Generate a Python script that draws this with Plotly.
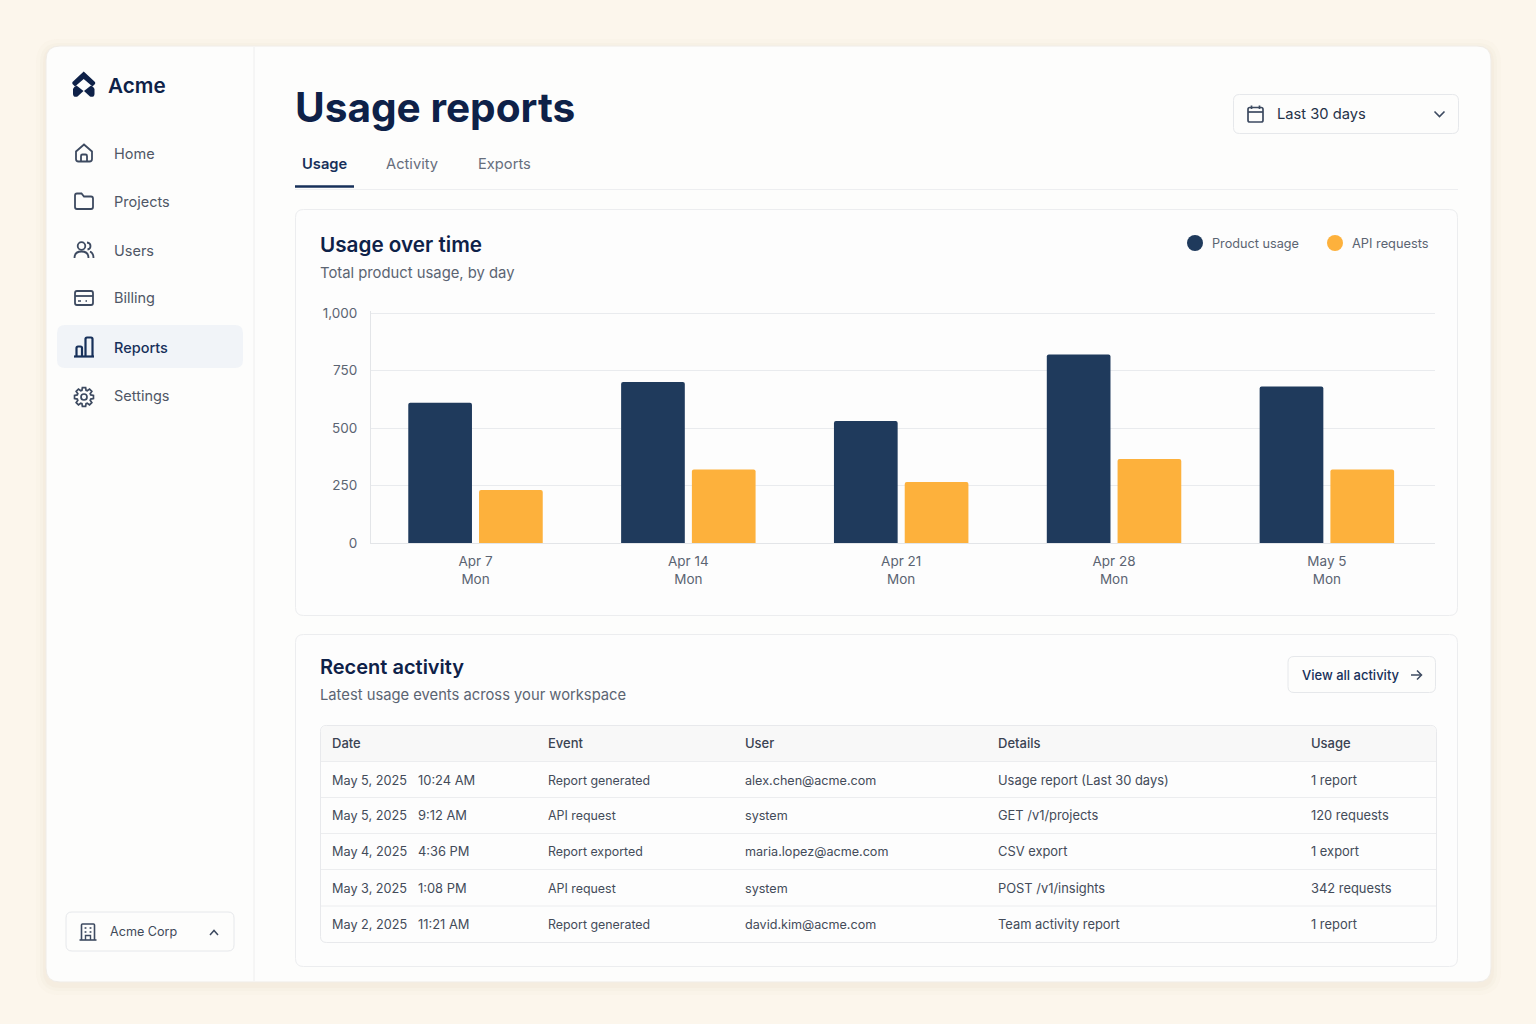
import math
import re
import plotly.graph_objects as go

W, H = 1536, 1024

# chart data
weeks = ['Apr 7<br>Mon', 'Apr 14<br>Mon', 'Apr 21<br>Mon', 'Apr 28<br>Mon', 'May 5<br>Mon']
product_usage = [610, 700, 530, 820, 680]
api_requests = [230, 320, 265, 365, 320]
y_ticks = [0, 250, 500, 750, 1000]
y_tick_labels = ['0', '250', '500', '750', '1,000']

# sidebar / tabs
nav_items = ['Home', 'Projects', 'Users', 'Billing', 'Reports', 'Settings']
tabs = ['Usage', 'Activity', 'Exports']

# table
columns = ['Date', 'Event', 'User', 'Details', 'Usage']
dates = ['May 5, 2025', 'May 5, 2025', 'May 4, 2025', 'May 3, 2025', 'May 2, 2025']
times = ['10:24 AM', '9:12 AM', '4:36 PM', '1:08 PM', '11:21 AM']
events = ['Report generated', 'API request', 'Report exported', 'API request', 'Report generated']
users = ['alex.chen@acme.com', 'system', 'maria.lopez@acme.com', 'system', 'david.kim@acme.com']
details = ['Usage report (Last 30 days)', 'GET /v1/projects', 'CSV export', 'POST /v1/insights', 'Team activity report']
usage = ['1 report', '120 requests', '1 export', '342 requests', '1 report']

NAVY = '#1F3A5C'
ORANGE = '#FDB13C'
INK = '#0E2148'
GRAY = '#5B6472'
BODY = '#434B59'
ICON = '#3D4A60'
LINE = '#E9EBEE'
FONT = 'Inter'

shapes = []
annotations = []


def conv(path):
    # path written in screen pixels -> paper coordinates
    out = []
    is_x = True
    for tok in re.findall(r'[A-Za-z]|-?\d+\.?\d*', path):
        if tok.isalpha():
            out.append(tok)
            is_x = True
        else:
            v = float(tok)
            out.append(f'{v / W:.6f}' if is_x else f'{1 - v / H:.6f}')
            is_x = not is_x
    return ' '.join(out)


def draw(path, color=None, width=1.0, fill=None):
    shapes.append(dict(type='path', xref='paper', yref='paper', layer='below', path=conv(path),
                       line=dict(color=color or 'rgba(0,0,0,0)', width=width if color else 0),
                       fillcolor=fill or 'rgba(0,0,0,0)'))


def rr_path(x0, y0, x1, y1, r):
    return (f'M {x0 + r} {y0} L {x1 - r} {y0} Q {x1} {y0} {x1} {y0 + r} L {x1} {y1 - r} Q {x1} {y1} {x1 - r} {y1} '
            f'L {x0 + r} {y1} Q {x0} {y1} {x0} {y1 - r} L {x0} {y0 + r} Q {x0} {y0} {x0 + r} {y0} Z')


def rrect(x0, y0, x1, y1, r, fill=None, color=None, width=1.0):
    draw(rr_path(x0, y0, x1, y1, r), color, width, fill)


def circle(cx, cy, r, fill=None, color=None, width=1.0):
    shapes.append(dict(type='circle', xref='paper', yref='paper', layer='below',
                       x0=(cx - r) / W, x1=(cx + r) / W, y0=1 - (cy + r) / H, y1=1 - (cy - r) / H,
                       line=dict(color=color or 'rgba(0,0,0,0)', width=width if color else 0),
                       fillcolor=fill or 'rgba(0,0,0,0)'))


def text(x, y, s, size=14, color=BODY, weight=400, anchor='left'):
    annotations.append(dict(xref='paper', yref='paper', x=(x - 1) / W, y=1 - y / H, text=s, showarrow=False,
                            xanchor=anchor, yanchor='middle', borderpad=0,
                            font=dict(family=FONT, size=size, color=color, weight=weight)))


# --- frame ---
for grow, alpha in [(10, 0.10), (6, 0.14), (3, 0.18)]:
    rrect(46 - grow, 46 - grow + 3, 1491 + grow, 982 + grow + 3, 14 + grow, fill=f'rgba(236,224,204,{alpha})')
rrect(46, 46, 1491, 982, 14, fill='#FDFDFC', color='#F0ECE6', width=1)
draw('M 254 47 L 254 981', '#EEEEEE', 1)

# --- logo ---
draw('M 83.7 71.5 L 95 82 Q 95.5 83 95 84 L 92.5 86.5 L 83.7 79 L 75 86.5 L 72.5 84 Q 72 83 72.5 82 Z', fill=INK)
draw('M 76.5 85.5 L 83.5 91 L 77.5 96.5 Q 76 97.2 74 96.5 Q 73 95.5 73 94 L 73 89 Q 73.5 87 76.5 85.5 Z', fill=INK)
draw('M 91 85.5 L 84 91 L 90 96.5 Q 91.5 97.2 93.5 96.5 Q 94.5 95.5 94.5 94 L 94.5 89 Q 94 87 91 85.5 Z', fill=INK)
text(108, 85, 'Acme', 20.7, INK, 600)

# --- nav ---
rrect(57, 325, 243, 368, 8, fill='#F1F4F8')
nav_y = [153, 201, 250, 298, 347, 396]
for name, y in zip(nav_items, nav_y):
    active = name == 'Reports'
    text(114, y, name, 14.5, '#17305A' if active else '#4F5766', 500 if active else 400)

draw('M 76 151.5 L 84 144.5 L 92 151.5 L 92 159 Q 92 161.5 89.5 161.5 L 78.5 161.5 Q 76 161.5 76 159 Z', ICON, 1.8)
draw('M 81 161.5 L 81 156 Q 81 154.5 82.5 154.5 L 85.5 154.5 Q 87 154.5 87 156 L 87 161.5', ICON, 1.8)
draw('M 75 195.5 Q 75 193.5 77 193.5 L 81.5 193.5 L 84 196.5 L 91 196.5 Q 93 196.5 93 198.5 L 93 207 '
     'Q 93 209 91 209 L 77 209 Q 75 209 75 207 Z', ICON, 1.8)
circle(81.5, 246, 3.8, color=ICON, width=1.8)
draw('M 74.5 258 Q 74.5 251.5 81.5 251.5 Q 88.5 251.5 88.5 258', ICON, 1.8)
draw('M 87 242.5 Q 90.5 243 90.5 246 Q 90.5 249 87.5 249.5', ICON, 1.8)
draw('M 90 251.5 Q 93.5 253 93.5 258', ICON, 1.8)
rrect(75, 291, 93, 305, 2, color=ICON, width=1.8)
draw('M 75 296 L 93 296', ICON, 1.8)
draw('M 78 301 L 81 301', ICON, 1.5)
draw('M 85.5 301 L 87 301', ICON, 1.5)
draw('M 74 356.5 L 94 356.5', '#17305A', 2.2)
draw('M 76.5 356.5 L 76.5 348 Q 76.5 346.5 78 346.5 L 80.5 346.5 Q 82 346.5 82 348 L 82 356.5', '#17305A', 2.2)
draw('M 85.5 356.5 L 85.5 339 Q 85.5 337.5 87 337.5 L 91 337.5 Q 92.5 337.5 92.5 339 L 92.5 356.5', '#17305A', 2.2)

# gear outline
teeth = 8
pts = []
for i in range(teeth):
    a = 2 * math.pi * i / teeth
    for da, rad in [(-0.30, 7.0), (-0.17, 9.6), (0.17, 9.6), (0.30, 7.0)]:
        pts.append((84 + rad * math.cos(a + da), 397 + rad * math.sin(a + da)))
draw('M ' + ' L '.join(f'{px:.2f} {py:.2f}' for px, py in pts) + ' Z', ICON, 1.7)
circle(84, 397, 3, color=ICON, width=1.7)

# --- workspace switcher ---
rrect(66, 912, 234, 951, 6, color='#E6E8EB', fill='#FDFDFC')
draw('M 81.5 940 L 81.5 925 Q 81.5 924 82.5 924 L 93.5 924 Q 94.5 924 94.5 925 L 94.5 940', ICON, 1.6)
draw('M 79.5 940 L 96.5 940', ICON, 1.6)
draw('M 85.5 940 L 85.5 935.5 L 90.5 935.5 L 90.5 940', ICON, 1.4)
for wx in (85.5, 90.5):
    for wy in (928, 932):
        draw(f'M {wx - 0.9} {wy} L {wx + 0.9} {wy}', ICON, 1.6)
text(110, 931, 'Acme Corp', 12.6, '#414A59')
draw('M 210 935 L 214 930.5 L 218 935', ICON, 1.5)

# --- header ---
text(295, 107, 'Usage reports', 40.6, INK, 700)
tab_x = [302, 386, 478]
for name, x in zip(tabs, tab_x):
    on = name == tabs[0]
    text(x, 164, name, 14.7, '#17305A' if on else '#666E7C', 600 if on else 400)
draw('M 295 189.5 L 1458 189.5', '#EDEEF0', 1)
draw('M 295 186.5 L 354 186.5', '#17305A', 2.5)

rrect(1233.5, 94.5, 1458.5, 133.5, 6, color='#E6E8EB', fill='#FDFDFC')
rrect(1248, 107.5, 1263, 122, 1.8, color=ICON, width=1.7)
draw('M 1248 112 L 1263 112', ICON, 1.7)
draw('M 1251.5 105.5 L 1251.5 109', ICON, 1.7)
draw('M 1259.5 105.5 L 1259.5 109', ICON, 1.7)
text(1277, 114, 'Last 30 days', 14.7, '#243148')
draw('M 1434.5 111.5 L 1439.5 116.5 L 1444.5 111.5', ICON, 1.6)

# --- chart card ---
rrect(295.5, 209.5, 1457.5, 615.5, 8, color='#ECEDEF', fill='#FDFDFD')
text(320, 244, 'Usage over time', 20.7, INK, 600)
text(320, 273, 'Total product usage, by day', 14.8, GRAY)
circle(1195, 243, 8, fill=NAVY)
text(1212, 243, 'Product usage', 12.7, GRAY)
circle(1335, 243, 8, fill=ORANGE)
text(1352, 243, 'API requests', 12.8, GRAY)

# --- activity card ---
rrect(295.5, 634.5, 1457.5, 966.5, 8, color='#ECEDEF', fill='#FDFDFD')
text(320, 667, 'Recent activity', 20, INK, 600)
text(320, 695, 'Latest usage events across your workspace', 14.75, GRAY)
rrect(1288, 656.5, 1435.5, 692.5, 6, color='#E6E8EB', fill='#FDFDFC')
text(1302, 675, 'View all activity', 13, '#17305A', 500)
draw('M 1411 675 L 1421 675', ICON, 1.5)
draw('M 1417 670.5 L 1421.5 675 L 1417 679.5', ICON, 1.5)

# table frame + header band
rrect(320.5, 725.5, 1436.5, 942.5, 6, color='#E8E9EC', fill='#FDFDFD')
draw('M 321 761 L 321 731 Q 321 726 326 726 L 1431 726 Q 1436 726 1436 731 L 1436 761 Z', fill='#F8F8F8')
for ly in (761.5, 797.5, 833.5, 869.5, 906):
    draw(f'M 321 {ly} L 1436 {ly}', '#ECEDEF', 1)

col_x = [332, 548, 745, 998, 1311]
row_y = [780, 815, 851, 888, 924]
for name, x in zip(columns, col_x):
    text(x, 743, name, 13, '#3A4352', 500)
for i, y in enumerate(row_y):
    text(col_x[0], y, dates[i], 12.7, BODY)
    text(418, y, times[i], 12.9, BODY)
    text(col_x[1], y, events[i], 12.4, BODY)
    text(col_x[2], y, users[i], 12.6, BODY)
    text(col_x[3], y, details[i], 12.9, BODY)
    text(col_x[4], y, usage[i], 12.9, BODY)

# --- bars ---
fig = go.Figure()
fig.add_trace(go.Bar(x=weeks, y=product_usage, name='Product usage',
                     marker=dict(color=NAVY, cornerradius=2, line_width=0)))
fig.add_trace(go.Bar(x=weeks, y=api_requests, name='API requests',
                     marker=dict(color=ORANGE, cornerradius=2, line_width=0)))

fig.update_layout(
    width=W, height=H,
    margin=dict(l=0, r=0, t=0, b=0, autoexpand=False),
    paper_bgcolor='#FCF6EC',
    plot_bgcolor='rgba(0,0,0,0)',
    barmode='group', bargap=0.335, bargroupgap=0.1,
    showlegend=False,
    shapes=shapes,
    annotations=annotations,
    font=dict(family=FONT),
    xaxis=dict(domain=[371 / W, 1435 / W], type='category', range=[-0.491, 4.508],
               showgrid=False, showline=True, linecolor='#E3E5E8', linewidth=1, zeroline=False,
               ticks='outside', ticklen=6, tickcolor='rgba(0,0,0,0)',
               tickfont=dict(family=FONT, size=13.5, color=GRAY)),
    yaxis=dict(domain=[1 - 543 / H, 1 - 310.7 / H], range=[0, 1010],
               tickvals=y_ticks, ticktext=y_tick_labels,
               showgrid=True, gridcolor=LINE, gridwidth=1, showline=True, linecolor='#E3E5E8', linewidth=1,
               zeroline=False, ticks='outside', ticklen=10, tickcolor='rgba(0,0,0,0)',
               tickfont=dict(family=FONT, size=13.5, color=GRAY)),
)

fig.write_html("out.html", config=dict(displayModeBar=False),
               post_script="document.body.style.margin='0';document.body.style.overflow='hidden';")
